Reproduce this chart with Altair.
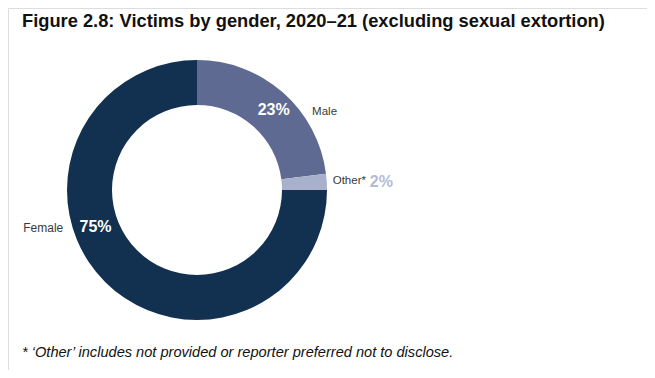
import altair as alt
import pandas as pd

categories = ["Male", "Other*", "Female"]
values = [23, 2, 75]
pct_labels = ["23%", "2%", "75%"]
colors = ["#5e6a92", "#a8b1cc", "#12304f"]

title_text = "Figure 2.8: Victims by gender, 2020\u201321 (excluding sexual extortion)"
footnote_text = "* \u2018Other\u2019 includes not provided or reporter preferred not to disclose."

df = pd.DataFrame({
    "category": categories,
    "value": values,
    "pct": pct_labels,
    "order": list(range(len(categories))),
})

CX, CY = 189, 182

base = alt.Chart(df).encode(
    theta=alt.Theta("value:Q", stack=True),
    order=alt.Order("order:Q"),
)

arc = base.mark_arc(outerRadius=130, innerRadius=85, stroke=None).encode(
    x=alt.value(CX), y=alt.value(CY),
    color=alt.Color("category:N", scale=alt.Scale(domain=categories, range=colors), legend=None),
)


def label(cat, field, radius, theta_off, **kw):
    return base.transform_calculate(
        lab=f"datum.category == '{cat}' ? datum.{field} : ''"
    ).mark_text(radius=radius, thetaOffset=theta_off, font="Liberation Sans", **kw).encode(
        x=alt.value(CX), y=alt.value(CY), text="lab:N"
    )


male_pct = label("Male", "pct", 111, 0.04, fontSize=16, fontWeight="bold", color="white", align="center", baseline="middle")
male_name = label("Male", "category", 139, 0.253, fontSize=11.5, color="#3a3a3a", align="left", baseline="middle")
fem_pct = label("Female", "pct", 108, 0.436, fontSize=16, fontWeight="bold", color="white", align="center", baseline="middle")
fem_name = label("Female", "category", 139, 0.51, fontSize=12, color="#3a3a3a", align="right", baseline="middle")
oth_name = label("Other*", "category", 136, 0.0, fontSize=11.5, color="#3a3a3a", align="left", baseline="middle")
oth_pct = label("Other*", "pct", 173, 0.016, fontSize=16, fontWeight="bold", color="#b3bbd3", align="left", baseline="middle")

title = alt.Chart(pd.DataFrame({"t": [title_text]})).mark_text(
    font="Liberation Sans", fontSize=18.3, fontWeight="bold", color="#111111",
    align="left", baseline="alphabetic",
).encode(x=alt.value(14), y=alt.value(19), text="t:N")

foot = alt.Chart(pd.DataFrame({"t": [footnote_text]})).mark_text(
    font="Liberation Sans", fontSize=14.6, fontStyle="italic", color="#111111",
    align="left", baseline="alphabetic",
).encode(x=alt.value(14), y=alt.value(349), text="t:N")

chart = alt.layer(arc, male_pct, male_name, fem_pct, fem_name, oth_name, oth_pct, title, foot).properties(
    width=639, height=362, autosize=alt.AutoSizeParams(type="none"), padding=0
).configure_view(stroke=None).configure(background="white")

chart.save("out.html", embed_options={"renderer": "svg", "actions": False})
